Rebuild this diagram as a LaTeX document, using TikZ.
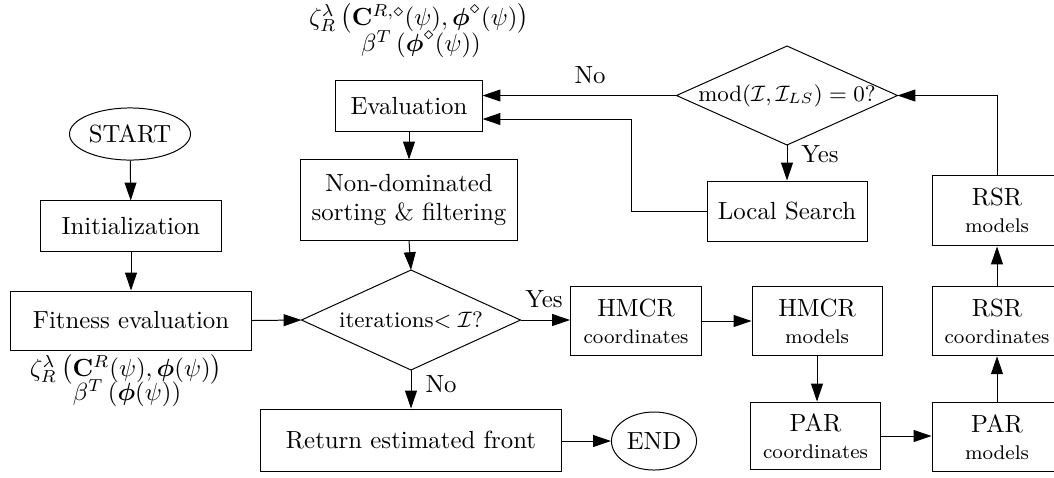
\documentclass[tikz,border=0pt]{standalone}
\usepackage{amsmath,amssymb}
\usetikzlibrary{shapes.geometric,arrows.meta}
\begin{document}
\begin{tikzpicture}[x=0.4032pt,y=-0.4032pt,
  box/.style={draw,rectangle,inner sep=0pt,align=center},
  oval/.style={draw,ellipse,inner sep=0pt},
  dia/.style={rectangle,inner sep=0pt,font=\small},
  arr/.style={-{Triangle[length=7.2pt,width=4.8pt]}},
  lbl/.style={inner sep=0pt},
  fml/.style={inner sep=0pt,anchor=base}]
\useasboundingbox (0,0) rectangle (1054,477);
% left column
\node[oval,minimum width=48.8pt,minimum height=21pt] (start) at (130,134) {START};
\node[box,minimum width=72.6pt,minimum height=20.2pt] (init) at (131,226) {Initialization};
\node[box,minimum width=96.8pt,minimum height=23.8pt] (fit) at (131,320.5) {Fitness evaluation};
\node[fml] (fitA) at (126,376) {$\zeta_R^{\lambda}\left(\mathbf{C}^{R}(\psi),\boldsymbol{\phi}(\psi)\right)$};
\node[fml] (fitB) at (127,400) {$\beta^{T}\left(\boldsymbol{\phi}(\psi)\right)$};
% middle column
\node[fml] (evA) at (419,25) {$\zeta_R^{\lambda}\left(\mathbf{C}^{R,\diamond}(\psi),\boldsymbol{\phi}^{\diamond}(\psi)\right)$};
\node[fml] (evB) at (421,51) {$\beta^{T}\left(\boldsymbol{\phi}^{\diamond}(\psi)\right)$};
\node[box,minimum width=58.9pt,minimum height=20.2pt] (eval) at (409,106) {Evaluation};
\node[box,minimum width=87.1pt,minimum height=32.3pt] (nd) at (409,200) {Non-dominated\\sorting \& filtering};
\node[dia,minimum width=87.9pt,minimum height=39.9pt] (iter) at (411,320) {iterations$<\mathcal{I}$?};
\draw (iter.west) -- (iter.north) -- (iter.east) -- (iter.south) -- cycle;
\node[box,minimum width=121pt,minimum height=25pt] (ret) at (411,440) {Return estimated front};
\node[oval,minimum width=34.3pt,minimum height=23.4pt] (end) at (654,441) {END};
% top right
\node[dia,minimum width=88.7pt,minimum height=39.5pt] (mod) at (787,95.5) {$\mathrm{mod}(\mathcal{I},\mathcal{I}_{LS})=0$?};
\draw (mod.west) -- (mod.north) -- (mod.east) -- (mod.south) -- cycle;
\node[box,minimum width=64.5pt,minimum height=24.2pt] (ls) at (787,211) {Local Search};
% harmony boxes
\node[box,minimum width=52.8pt,minimum height=28.2pt] (hc) at (636,321) {HMCR\\[-1pt]{\footnotesize coordinates}};
\node[box,minimum width=52.4pt,minimum height=28.2pt] (hm) at (817,321) {HMCR\\[-1pt]{\footnotesize models}};
\node[box,minimum width=52.8pt,minimum height=27.4pt] (pc) at (815.5,436) {PAR\\[-1pt]{\footnotesize coordinates}};
\node[box,minimum width=52.4pt,minimum height=28pt] (pm) at (997,437) {PAR\\[-1pt]{\footnotesize models}};
\node[box,minimum width=52.4pt,minimum height=28pt] (rc) at (997,321) {RSR\\[-1pt]{\footnotesize coordinates}};
\node[box,minimum width=52.4pt,minimum height=28.6pt] (rm) at (997,210.5) {RSR\\[-1pt]{\footnotesize models}};
% connectors
\draw[arr] (start) -- (init);
\draw[arr] (init) -- (fit);
\draw[arr] (fit.east) -- (iter.west);
\draw[arr] (eval) -- (nd);
\draw[arr] (nd.south) -- (iter.north);
\draw[arr] (iter.east) -- (iter.east -| hc.west);
\node[lbl] (yes1) at (544,299) {Yes};
\draw[arr] (iter.south) -- (ret.north);
\node[lbl] (no1) at (441,384) {No};
\draw[arr] (ret.east |- end.west) -- (end.west);
\draw[arr] (hc.east) -- (hm.west);
\draw[arr] (hm.south) -- (hm.south |- pc.north);
\draw[arr] (pc.east) -- (pc.east -| pm.west);
\draw[arr] (pm.north) -- (rc.south);
\draw[arr] (rc.north) -- (rm.south);
\draw[arr] (rm.north) |- (mod.east);
\draw[arr] (mod.west) -- (mod.west -| eval.east);
\node[lbl] (no2) at (590,75) {No};
\draw[arr] (mod.south) -- (ls.north);
\node[lbl] (yes2) at (820,154) {Yes};
\coordinate (lsturn) at (631,119);
\draw[arr] (ls.west) -| (lsturn) -- (lsturn -| eval.east);
\end{tikzpicture}
\end{document}
